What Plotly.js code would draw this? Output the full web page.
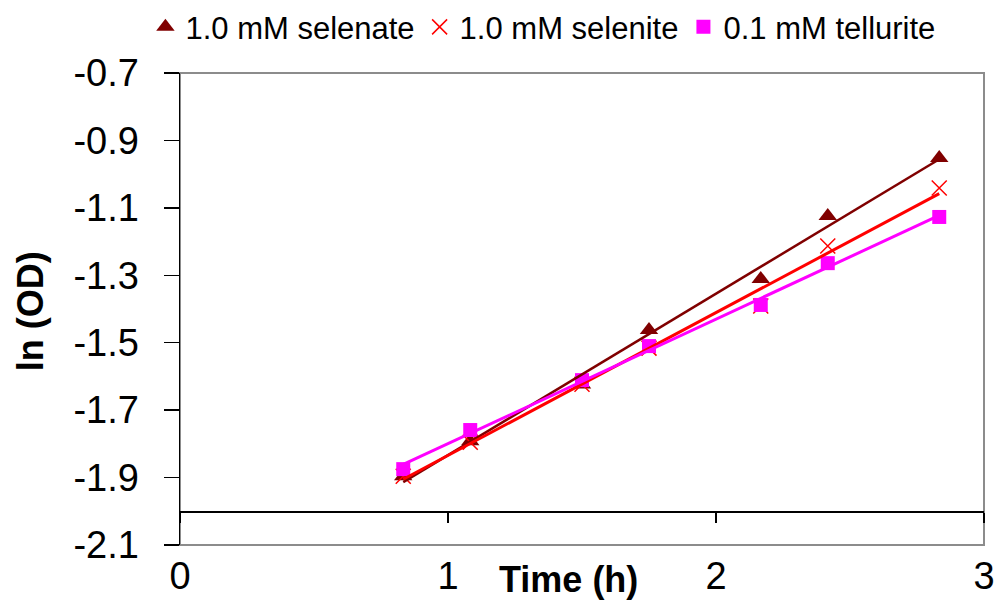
<!DOCTYPE html>
<html>
<head>
<meta charset="utf-8">
<script src="https://cdn.plot.ly/plotly-3.0.1.min.js"></script>
<style>
  html, body { margin: 0; padding: 0; background: #ffffff; }
  #chart { width: 999px; height: 600px; }
</style>
</head>
<body>
<div id="chart"></div>
<script>
// Sampling times (h)
var timeH = [0.833, 1.083, 1.5, 1.75, 2.167, 2.417, 2.833];

// ln(OD) for each treatment
var selenate  = [-1.896, -1.792, -1.624, -1.462, -1.311, -1.124, -0.952];
var selenite  = [-1.896, -1.795, -1.623, -1.516, -1.391, -1.213, -1.041];
var tellurite = [-1.875, -1.759, -1.611, -1.510, -1.388, -1.264, -1.127];

var seriesNames = ['1.0 mM selenate', '1.0 mM selenite', '0.1 mM tellurite'];

// Axis ticks
var xTickVals = [0, 1, 2, 3];
var xTickText = ['0', '1', '2', '3'];
var yTickVals = [-2.1, -1.9, -1.7, -1.5, -1.3, -1.1, -0.9, -0.7];
var yTickText = ['-2.1', '-1.9', '-1.7', '-1.5', '-1.3', '-1.1', '-0.9', '-0.7'];

var FONT = 'Arial, "Liberation Sans", sans-serif';
var colors = ['#800000', '#FF0000', '#FF00FF'];

// Least-squares linear trendline over the sampled interval
function trend(xs, ys) {
  var n = xs.length, mx = 0, my = 0;
  for (var i = 0; i < n; i++) { mx += xs[i]; my += ys[i]; }
  mx /= n; my /= n;
  var sxy = 0, sxx = 0;
  for (var j = 0; j < n; j++) {
    sxy += (xs[j] - mx) * (ys[j] - my);
    sxx += (xs[j] - mx) * (xs[j] - mx);
  }
  var b = sxy / sxx, a = my - b * mx;
  var x0 = Math.min.apply(null, xs), x1 = Math.max.apply(null, xs);
  return { x: [x0, x1], y: [a + b * x0, a + b * x1] };
}

var data = [
  { x: timeH, y: selenate, name: seriesNames[0], type: 'scatter', mode: 'markers',
    marker: { symbol: 'triangle-up', size: 16, color: colors[0] } },
  { x: timeH, y: selenite, name: seriesNames[1], type: 'scatter', mode: 'markers',
    marker: { symbol: 'x-thin-open', size: 15, color: colors[1], line: { color: colors[1], width: 1.5 } } },
  { x: timeH, y: tellurite, name: seriesNames[2], type: 'scatter', mode: 'markers',
    marker: { symbol: 'square', size: 14, color: colors[2] } }
];

[selenate, selenite, tellurite].forEach(function (ys, k) {
  var t = trend(timeH, ys);
  data.push({ x: t.x, y: t.y, xaxis: 'x2', type: 'scatter', mode: 'lines', showlegend: false,
    hoverinfo: 'skip', line: { color: colors[k], width: k === 0 ? 2.5 : 3 } });
});

var layout = {
  width: 999, height: 600,
  paper_bgcolor: '#ffffff', plot_bgcolor: '#ffffff',
  margin: { l: 180, r: 15, t: 73, b: 55, autoexpand: false },
  font: { family: FONT, color: '#000000' },
  showlegend: true,
  legend: {
    orientation: 'h', x: -0.043, y: 1.097, xanchor: 'left', yanchor: 'middle',
    font: { family: FONT, size: 31, color: '#000000' }, bgcolor: 'rgba(0,0,0,0)'
  },
  xaxis: {
    range: [0, 3], tickvals: xTickVals, ticktext: xTickText, automargin: false,
    showline: false, ticks: '', showgrid: false, zeroline: false,
    tickfont: { family: FONT, size: 38, color: '#000000' }, ticklabelstandoff: 5
  },
  xaxis2: {
    overlaying: 'x', matches: 'x', anchor: 'free', position: 0.1 / 1.4,
    range: [0, 3], tickvals: xTickVals, showticklabels: false,
    showline: true, linecolor: '#000000', linewidth: 1.5,
    ticks: 'outside', ticklen: 10, tickwidth: 1.5, tickcolor: '#000000',
    showgrid: false, zeroline: false
  },
  yaxis: {
    range: [-2.1, -0.7], tickvals: yTickVals, ticktext: yTickText, automargin: false,
    showline: true, linecolor: '#000000', linewidth: 1.5,
    ticks: 'outside', ticklen: 15, tickwidth: 1.5, tickcolor: '#000000',
    showgrid: false, zeroline: false,
    tickfont: { family: FONT, size: 38, color: '#000000' }, ticklabelstandoff: 17
  },
  shapes: [
    { type: 'rect', xref: 'paper', yref: 'paper', x0: 0, x1: 1, y0: 0, y1: 1,
      line: { color: '#8c8c8c', width: 2 }, layer: 'below' }
  ],
  annotations: [
    { text: '<b>Time (h)</b>', xref: 'paper', yref: 'paper', x: 0.4826, y: -0.074,
      xanchor: 'center', yanchor: 'middle', showarrow: false,
      font: { family: FONT, size: 36, color: '#000000' } },
    { text: '<b>ln (OD)</b>', xref: 'paper', yref: 'paper', x: -0.186, y: 0.496,
      xanchor: 'center', yanchor: 'middle', textangle: -90, showarrow: false,
      font: { family: FONT, size: 36, color: '#000000' } }
  ]
};

Plotly.newPlot('chart', data, layout, { displayModeBar: false, staticPlot: true });
</script>
</body>
</html>
